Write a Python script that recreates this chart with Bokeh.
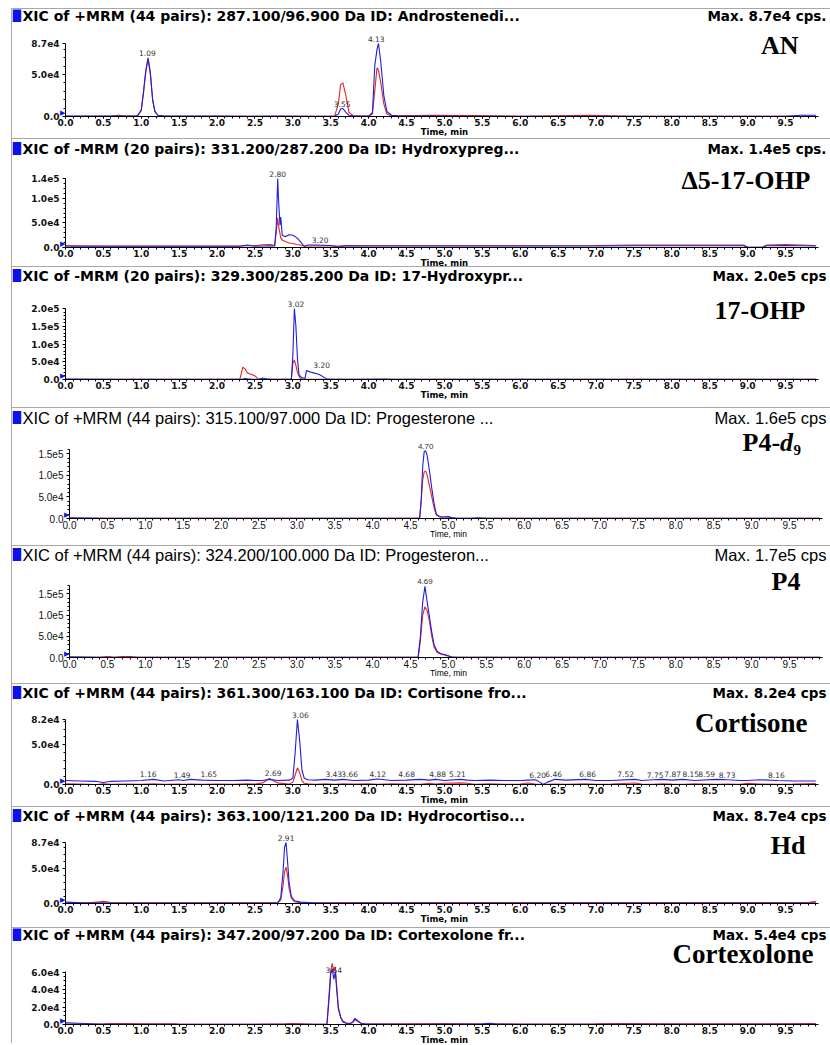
from bokeh.plotting import figure
from bokeh.layouts import column, row
from bokeh.models import Range1d, FixedTicker, Label, Spacer, NumeralTickFormatter
from bokeh.embed import file_html
from bokeh.resources import INLINE

# ---------------- data ----------------
x_ticks = [0.0, 0.5, 1.0, 1.5, 2.0, 2.5, 3.0, 3.5, 4.0, 4.5, 5.0, 5.5, 6.0, 6.5, 7.0, 7.5, 8.0, 8.5, 9.0, 9.5]
x_tick_labels = ["0.0", "0.5", "1.0", "1.5", "2.0", "2.5", "3.0", "3.5", "4.0", "4.5",
                 "5.0", "5.5", "6.0", "6.5", "7.0", "7.5", "8.0", "8.5", "9.0", "9.5"]

# Panel 1: AN
an_time = [0.00, 0.30, 0.60, 0.70, 0.80, 0.95, 1.00, 1.03, 1.06, 1.09, 1.12, 1.15, 1.18, 1.22, 1.30,
           1.60, 2.00, 2.40, 2.80, 3.20, 3.55, 3.60, 3.63, 3.66, 3.70, 3.74, 3.80, 4.00, 4.05, 4.08,
           4.11, 4.13, 4.16, 4.20, 4.24, 4.30, 4.40, 4.80, 5.40, 6.00, 6.90, 7.50, 8.50, 9.50, 9.70, 9.90]
an_blue = [500, 400, 400, 600, 400, 800, 8000, 30000, 55000, 70000, 52000, 20000, 6000, 1500, 500,
           400, 400, 300, 500, 300, 300, 3000, 9000, 9500, 5000, 1500, 500, 400, 5000, 60000,
           80000, 87000, 65000, 25000, 6000, 1500, 500, 400, 300, 300, 300, 300, 300, 300, 1500, 1500]
an_red = [300, 300, 600, 1500, 600, 700, 7000, 29000, 54000, 68000, 50000, 19000, 5500, 1200, 400,
          300, 300, 300, 300, 300, 500, 15000, 38000, 40000, 25000, 5000, 800, 300, 3000, 30000,
          58000, 55000, 40000, 15000, 3000, 1000, 800, 1500, 1200, 300, 1500, 300, 300, 300, 300, 300]
an_y_ticks = [0, 50000, 87000]
an_y_labels = ["0.0", "5.0e4", "8.7e4"]
an_peaks = [("1.09", 1.08, 70000), ("3.55", 3.65, 9500), ("4.13", 4.10, 87000)]

# Panel 2: delta5-17-OHP
oh5_time = [0.00, 0.10, 0.50, 1.00, 1.50, 2.00, 2.30, 2.40, 2.50, 2.60, 2.70, 2.76, 2.78, 2.80, 2.81,
            2.83, 2.84, 2.86, 2.90, 2.95, 3.00, 3.05, 3.10, 3.15, 3.20, 3.30, 3.50, 3.60, 3.70, 4.00,
            5.00, 6.00, 7.00, 7.50, 8.00, 8.50, 8.95, 9.00, 9.20, 9.25, 9.50, 9.90]
oh5_blue = [3000, 2500, 2500, 2500, 2500, 2500, 2500, 5000, 2500, 3000, 3500, 3000, 40000, 140000, 100000,
            45000, 62000, 25000, 22000, 26000, 25000, 20000, 12000, 2000, 5000, 5000, 4000, 1000, 3500, 3000,
            3000, 3000, 3000, 3500, 3500, 3500, 3500, 500, 500, 3500, 4000, 3000]
oh5_red = [3500, 3500, 3000, 3000, 3000, 3000, 3000, 3500, 3500, 5500, 6000, 4000, 30000, 60000, 45000,
           28000, 20000, 15000, 12000, 9000, 8000, 6000, 5000, 3000, 3000, 3000, 3000, 3000, 4000, 3500,
           3500, 3500, 4000, 5000, 5000, 5000, 5000, 500, 500, 5000, 6000, 4000]
oh5_y_ticks = [0, 50000, 100000, 140000]
oh5_y_labels = ["0.0", "5.0e4", "1.0e5", "1.4e5"]
oh5_peaks = [("2.80", 2.80, 140000), ("3.20", 3.36, 6000)]

# Panel 3: 17-OHP
ohp_time = [0.00, 0.50, 1.00, 1.50, 2.00, 2.30, 2.34, 2.37, 2.40, 2.45, 2.50, 2.55, 2.60, 2.65, 2.70,
            2.90, 2.98, 3.00, 3.02, 3.04, 3.06, 3.08, 3.10, 3.13, 3.16, 3.18, 3.25, 3.35, 3.45, 3.50,
            4.00, 4.20, 4.30, 5.00, 6.00, 7.00, 8.00, 9.00, 9.90]
ohp_blue = [1000, 300, 300, 300, 300, 300, 1500, 3000, 2000, 1000, 500, 500, 4000, 2000, 1000,
            500, 1000, 70000, 200000, 150000, 60000, 15000, 8000, 5000, 3000, 25000, 20000, 14000, 1000, 500,
            300, 1500, 300, 300, 300, 300, 300, 300, 300]
ohp_red = [300, 300, 300, 300, 300, 300, 35000, 30000, 18000, 15000, 10000, 500, 500, 300, 300,
           300, 1000, 45000, 55000, 40000, 20000, 10000, 3000, 800, 500, 500, 500, 300, 300, 300,
           300, 300, 300, 300, 300, 300, 300, 300, 300]
ohp_y_ticks = [0, 50000, 100000, 150000, 200000]
ohp_y_labels = ["0.0", "5.0e4", "1.0e5", "1.5e5", "2.0e5"]
ohp_peaks = [("3.02", 3.04, 200000), ("3.20", 3.38, 27000)]

# Panel 4: P4-d9
p4d_time = [0.00, 0.50, 1.00, 2.00, 3.00, 4.00, 4.50, 4.60, 4.62, 4.64, 4.66, 4.68, 4.70, 4.72, 4.75,
            4.78, 4.81, 4.84, 4.88, 4.92, 4.96, 5.00, 5.04, 5.10, 5.30, 5.40, 5.50, 6.00, 7.00, 8.00,
            9.00, 9.90]
p4d_blue = [1500, 300, 300, 300, 300, 300, 300, 300, 300, 40000, 120000, 155000, 157000, 145000, 110000,
            70000, 35000, 10000, 4000, 3000, 4000, 4500, 2000, 500, 300, 1500, 300, 300, 300, 300,
            300, 300]
p4d_red = [300, 300, 300, 300, 300, 300, 300, 300, 300, 40000, 90000, 108000, 110000, 100000, 75000,
           50000, 25000, 8000, 5000, 4000, 3500, 3000, 1500, 300, 300, 300, 300, 300, 300, 300,
           300, 300]
p4d_y_ticks = [0, 50000, 100000, 150000]
p4d_y_labels = ["0.0", "5.0e4", "1.0e5", "1.5e5"]
p4d_peaks = [("4.70", 4.70, 157000)]

# Panel 5: P4
p4_time = [0.00, 0.40, 0.50, 0.60, 0.70, 0.80, 0.90, 1.00, 2.00, 3.00, 4.00, 4.55, 4.60, 4.63, 4.66,
           4.69, 4.72, 4.75, 4.78, 4.81, 4.85, 4.90, 4.95, 5.00, 5.05, 5.10, 6.00, 7.00, 8.00, 9.00, 9.90]
p4_blue = [1500, 300, 300, 300, 300, 300, 300, 300, 300, 300, 300, 300, 300, 50000, 130000,
           168000, 130000, 95000, 60000, 30000, 15000, 9000, 7000, 4000, 800, 300, 300, 300, 300, 300, 300]
p4_red = [300, 300, 2500, 300, 2000, 2500, 300, 300, 300, 300, 300, 300, 300, 40000, 100000,
          120000, 110000, 85000, 50000, 25000, 12000, 8000, 6000, 3000, 500, 300, 300, 300, 300, 300, 300]
p4_y_ticks = [0, 50000, 100000, 150000]
p4_y_labels = ["0.0", "5.0e4", "1.0e5", "1.5e5"]
p4_peaks = [("4.69", 4.69, 168000)]

# Panel 6: Cortisone
cs_time = [0.00, 0.20, 0.40, 0.50, 0.60, 0.80, 1.00, 1.16, 1.30, 1.49, 1.55, 1.65, 1.80, 2.00, 2.20,
           2.40, 2.50, 2.60, 2.69, 2.80, 2.95, 3.00, 3.03, 3.06, 3.09, 3.12, 3.15, 3.20, 3.30, 3.43,
           3.55, 3.66, 3.80, 4.00, 4.12, 4.30, 4.50, 4.68, 4.80, 4.88, 5.00, 5.21, 5.30, 5.40, 5.60,
           5.80, 6.00, 6.10, 6.20, 6.26, 6.30, 6.36, 6.46, 6.60, 6.86, 7.00, 7.20, 7.52, 7.60, 7.75,
           7.87, 8.00, 8.15, 8.30, 8.59, 8.73, 8.90, 9.00, 9.16, 9.40, 9.60, 9.90]
cs_blue = [5000, 4500, 4000, 2500, 4000, 4500, 5000, 6500, 4500, 6000, 5000, 6500, 5500, 5000, 5000,
           5500, 5000, 5000, 6500, 5000, 5500, 8000, 40000, 82000, 55000, 18000, 8000, 6000, 5500, 6500,
           5500, 6500, 5000, 5500, 7000, 5000, 5500, 6500, 5500, 6500, 5000, 6500, 5500, 5000, 5500,
           5000, 5000, 5500, 6000, 3000, 0, 3000, 6500, 5500, 6500, 5000, 5000, 6500, 5000, 6000,
           6500, 5500, 6500, 5000, 6500, 6000, 5000, 5000, 6000, 5000, 4500, 4500]
cs_red = [800, 500, 0, 800, 300, 600, 300, 800, 300, 600, 300, 500, 300, 600, 300,
          800, 500, 2000, 7500, 2000, 500, 3000, 12000, 21000, 15000, 5000, 1500, 800, 300, 1000,
          300, 800, 500, 1000, 300, 800, 500, 300, 1500, 600, 1500, 2000, 1500, 300, 800,
          300, 600, 1800, 500, 300, 300, 300, 600, 300, 800, 300, 600, 1800, 500, 300,
          800, 500, 300, 800, 300, 600, 300, 1500, 500, 300, 600, 1200]
cs_y_ticks = [0, 50000, 82000]
cs_y_labels = ["0.0", "5.0e4", "8.2e4"]
cs_peaks = [("1.16", 1.09, 6500), ("1.49", 1.54, 6000), ("1.65", 1.89, 6500), ("2.69", 2.74, 8000),
            ("3.06", 3.10, 82000), ("3.43", 3.54, 6500), ("3.66", 3.75, 6500), ("4.12", 4.12, 7000),
            ("4.68", 4.50, 6500), ("4.88", 4.91, 6500), ("5.21", 5.17, 6500), ("6.20", 6.23, 6000),
            ("6.46", 6.44, 6500), ("6.86", 6.89, 6500), ("7.52", 7.39, 6500), ("7.75", 7.78, 6000),
            ("7.87", 8.01, 6500), ("8.15", 8.25, 6500), ("8.59", 8.46, 6500), ("8.73", 8.73, 6000),
            ("8.16", 9.38, 6000)]

# Panel 7: Hd
hd_time = [0.00, 0.30, 0.45, 0.50, 0.60, 1.00, 2.00, 2.70, 2.80, 2.84, 2.87, 2.89, 2.91, 2.93, 2.95,
           2.98, 3.02, 3.10, 3.20, 3.30, 3.50, 4.00, 5.00, 6.00, 7.00, 8.00, 9.00, 9.80, 9.90]
hd_blue = [2000, 800, 1000, 1000, 800, 800, 800, 800, 800, 8000, 45000, 80000, 87000, 60000, 30000,
           10000, 4000, 2000, 1500, 800, 800, 800, 800, 800, 800, 800, 800, 800, 1000]
hd_red = [1000, 1000, 2500, 3000, 1500, 1000, 1000, 1000, 1500, 5000, 25000, 45000, 52000, 40000, 22000,
          8000, 2500, 1200, 1000, 1000, 1000, 1200, 1500, 1200, 1500, 1200, 1500, 1500, 3000]
hd_y_ticks = [0, 50000, 87000]
hd_y_labels = ["0.0", "5.0e4", "8.7e4"]
hd_peaks = [("2.91", 2.91, 87000)]

# Panel 8: Cortexolone
cx_time = [0.00, 0.50, 0.60, 0.80, 1.00, 1.45, 1.50, 2.00, 2.50, 2.90, 3.00, 3.30, 3.45, 3.48, 3.50,
           3.52, 3.54, 3.56, 3.58, 3.60, 3.63, 3.66, 3.70, 3.75, 3.79, 3.82, 3.86, 3.90, 3.95, 4.20,
           4.50, 5.00, 5.50, 5.60, 5.70, 6.00, 7.00, 7.30, 8.00, 9.00, 9.90]
cx_blue = [2000, 300, 300, 300, 300, 300, 300, 300, 300, 300, 300, 300, 300, 32000, 58000,
           64000, 52000, 60000, 38000, 18000, 8000, 3000, 1500, 1000, 3000, 7000, 4000, 1500, 500, 500,
           300, 300, 800, 1500, 500, 300, 300, 300, 300, 300, 300]
cx_red = [600, 800, 1000, 1000, 800, 800, 300, 300, 300, 800, 1000, 300, 300, 38000, 62000,
          70000, 60000, 66000, 42000, 20000, 9000, 4000, 2000, 1000, 2000, 5500, 3500, 1500, 500, 600,
          800, 1000, 600, 600, 600, 600, 800, 1000, 800, 800, 1000]
cx_y_ticks = [0, 20000, 40000, 60000]
cx_y_labels = ["0.0", "2.0e4", "4.0e4", "6.0e4"]
cx_peaks = [("3.54", 3.54, 57000)]

# ---------------- layout / style ----------------
BLUE = "#1e1ee0"
RED = "#e02626"
GRAY = "#a8a8a8"
FIG_X = 12          # page x where each panel figure begins
FIG_W = 830 - FIG_X
PPM = 720 / 9.5     # pixels per minute
X_END = 9.94

WIDE = dict(title_font="DejaVu Sans", title_size="14px", max_size="13.5px", title_style="bold",
            tick_font="DejaVu Sans", tick_size="9px", tick_style="bold",
            small_font="DejaVu Sans", peak_size="7.5px", time_style="bold")
NARROW = dict(title_font="Liberation Sans", title_size="16.5px", max_size="16.5px", title_style="normal",
              tick_font="Liberation Sans", tick_size="10px", tick_style="normal",
              small_font="Liberation Sans", peak_size="8px", time_style="normal")

# geometry in page pixels: separator line, next separator, title row, top of y axis, baseline,
# compound-label centre, compound-label right edge, x of time 0
panels = [
    dict(sep=8, nxt=138, title_y=15, top_y=43, base_y=116, id_y=45, id_right=798, x0=65,
         y_end=87000, y_axis_top=87000, t=an_time, b=an_blue, r=an_red, yt=an_y_ticks, yl=an_y_labels,
         ym=10000, peaks=an_peaks, style=WIDE, ident="AN", id_size="26px",
         title="XIC of +MRM (44 pairs): 287.100/96.900 Da ID: Androstenedi...", mx="Max. 8.7e4 cps."),
    dict(sep=138, nxt=266, title_y=148, top_y=178, base_y=247, id_y=180, id_right=810, x0=65,
         y_end=140000, y_axis_top=140000, t=oh5_time, b=oh5_blue, r=oh5_red, yt=oh5_y_ticks,
         yl=oh5_y_labels, ym=10000, peaks=oh5_peaks, style=WIDE, ident="\u03945-17-OHP", id_size="26px",
         title="XIC of -MRM (20 pairs): 331.200/287.200 Da ID: Hydroxypreg...", mx="Max. 1.4e5 cps."),
    dict(sep=266, nxt=407, title_y=275, top_y=308, base_y=379, id_y=310, id_right=805, x0=65,
         y_end=200000, y_axis_top=200000, t=ohp_time, b=ohp_blue, r=ohp_red, yt=ohp_y_ticks,
         yl=ohp_y_labels, ym=10000, peaks=ohp_peaks, style=WIDE, ident="17-OHP", id_size="26px",
         title="XIC of -MRM (20 pairs): 329.300/285.200 Da ID: 17-Hydroxypr...", mx="Max. 2.0e5 cps"),
    dict(sep=407, nxt=545, title_y=417, top_y=449, base_y=518, id_y=442, id_right=800, x0=69,
         y_end=160000, y_axis_top=160000, t=p4d_time, b=p4d_blue, r=p4d_red, yt=p4d_y_ticks,
         yl=p4d_y_labels, ym=10000, peaks=p4d_peaks, style=NARROW, ident=None, id_size="26px",
         title="XIC of +MRM (44 pairs): 315.100/97.000 Da ID: Progesterone ...", mx="Max. 1.6e5 cps"),
    dict(sep=545, nxt=683, title_y=554, top_y=585, base_y=657, id_y=581, id_right=800, x0=69,
         y_end=170000, y_axis_top=170000, t=p4_time, b=p4_blue, r=p4_red, yt=p4_y_ticks,
         yl=p4_y_labels, ym=10000, peaks=p4_peaks, style=NARROW, ident="P4", id_size="26px",
         title="XIC of +MRM (44 pairs): 324.200/100.000 Da ID: Progesteron...", mx="Max. 1.7e5 cps"),
    dict(sep=683, nxt=806, title_y=692, top_y=719, base_y=784, id_y=722, id_right=807, x0=65,
         y_end=82000, y_axis_top=82000, t=cs_time, b=cs_blue, r=cs_red, yt=cs_y_ticks,
         yl=cs_y_labels, ym=10000, peaks=cs_peaks, style=WIDE, ident="Cortisone", id_size="27px",
         title="XIC of +MRM (44 pairs): 361.300/163.100 Da ID: Cortisone fro...", mx="Max. 8.2e4 cps"),
    dict(sep=806, nxt=927, title_y=815, top_y=842, base_y=903, id_y=845, id_right=805, x0=65,
         y_end=87000, y_axis_top=87000, t=hd_time, b=hd_blue, r=hd_red, yt=hd_y_ticks,
         yl=hd_y_labels, ym=10000, peaks=hd_peaks, style=WIDE, ident="Hd", id_size="26px",
         title="XIC of +MRM (44 pairs): 363.100/121.200 Da ID: Hydrocortiso...", mx="Max. 8.7e4 cps"),
    dict(sep=927, nxt=1043, title_y=934, top_y=969, base_y=1024, id_y=953, id_right=813, x0=65,
         y_end=63000, y_axis_top=61000, t=cx_time, b=cx_blue, r=cx_red, yt=cx_y_ticks,
         yl=cx_y_labels, ym=5000, peaks=cx_peaks, style=WIDE, ident="Cortexolone", id_size="27px",
         title="XIC of +MRM (44 pairs): 347.200/97.200 Da ID: Cortexolone fr...", mx="Max. 5.4e4 cps"),
]


def build(spec):
    st = spec["style"]
    y_end = spec["y_end"]
    base_y, top_y, x0 = spec["base_y"], spec["top_y"], spec["x0"]
    h = spec["nxt"] - spec["sep"] - 1

    def X(px):
        return (px - x0) / PPM

    def Y(py):
        return y_end * (base_y - py) / (base_y - top_y)

    def dy(px):
        return y_end * px / (base_y - top_y)

    # the frame covers the whole canvas; axes are pinned at the origin
    p = figure(width=FIG_W, height=h, title=None,
               x_range=Range1d(X(FIG_X), X(830)), y_range=Range1d(Y(spec["nxt"]), Y(spec["sep"] + 1)),
               output_backend="svg", toolbar_location=None, min_border=0)
    p.min_border_left = 0
    p.min_border_right = 0
    p.min_border_top = 0
    p.min_border_bottom = 0
    p.outline_line_color = None
    p.xgrid.visible = False
    p.ygrid.visible = False
    p.background_fill_color = "white"
    p.border_fill_color = "white"

    xa = p.xaxis[0]
    ya = p.yaxis[0]
    xa.fixed_location = 0
    ya.fixed_location = 0
    xa.bounds = (0, X_END)
    ya.bounds = (0, spec["y_axis_top"])
    xa.ticker = FixedTicker(ticks=x_ticks, minor_ticks=[i / 10 for i in range(100)])
    xa.formatter = NumeralTickFormatter(format="0.0")
    xa.major_label_overrides = dict(zip(x_ticks, x_tick_labels))
    ym = spec["ym"]
    ya.ticker = FixedTicker(ticks=spec["yt"],
                            minor_ticks=[k * ym for k in range(int(spec["y_axis_top"] // ym) + 1)])
    ya.major_label_overrides = dict(zip(spec["yt"], spec["yl"]))
    for ax in (xa, ya):
        ax.axis_line_color = "black"
        ax.axis_line_width = 1
        ax.major_tick_line_color = "black"
        ax.minor_tick_line_color = "black"
        ax.major_tick_in = 0
        ax.minor_tick_in = 0
        ax.minor_tick_out = 2
        ax.major_label_text_font = st["tick_font"]
        ax.major_label_text_font_size = st["tick_size"]
        ax.major_label_text_font_style = st["tick_style"]
        ax.major_label_text_color = "#111111"
    xa.major_tick_out = 2
    xa.major_label_standoff = 0
    ya.major_tick_out = 3
    ya.major_label_standoff = 3

    p.line(spec["t"], spec["r"], line_color=RED, line_width=1.1)
    p.line(spec["t"], spec["b"], line_color=BLUE, line_width=1.1)

    def txt(x, y, s, font, size, style="normal", color="black", align="left", baseline="middle"):
        p.add_layout(Label(x=x, y=y, text=s, text_font=font, text_font_size=size,
                           text_font_style=style, text_color=color,
                           text_align=align, text_baseline=baseline))

    ty = Y(spec["title_y"])
    txt(X(12), ty, "\u2588", "DejaVu Sans", "11px", color="#1010e8")
    txt(X(22), ty, spec["title"], st["title_font"], st["title_size"], st["title_style"])
    txt(X(826), ty, spec["mx"], st["title_font"], st["max_size"], st["title_style"], align="right")

    # origin marker
    txt(0, 0, "\u25b6", "DejaVu Sans", "7px", color="#1010e8", align="right", baseline="bottom")

    # x axis title
    txt(5.0, Y(base_y + 15), "Time, min", st["small_font"], "8.5px", st["time_style"], align="center")

    # peak labels
    for s, px, pv in spec["peaks"]:
        txt(px, pv + dy(2), s, st["small_font"], st["peak_size"], color="#333333",
            align="center", baseline="bottom")

    # compound label
    iy = Y(spec["id_y"])
    if spec["ident"] is not None:
        txt(X(spec["id_right"]), iy, spec["ident"], "Liberation Serif", spec["id_size"], "bold",
            align="right")
    else:
        xs = spec["id_right"] - 58
        txt(X(xs), iy, "P4-", "Liberation Serif", "26px", "bold")
        txt(X(xs + 37.5), iy, "d", "Liberation Serif", "26px", "bold italic")
        txt(X(xs + 51), Y(spec["id_y"] + 7), "9", "Liberation Serif", "15px", "bold")
    return p


stack = [Spacer(width=FIG_W, height=8)]
for spec in panels:
    stack.append(Spacer(width=FIG_W, height=1, styles={"background-color": GRAY}))
    stack.append(build(spec))

left_edge = column(Spacer(width=1, height=8),
                   Spacer(width=1, height=1043 - 8, styles={"background-color": GRAY}),
                   spacing=0)
layout = row(Spacer(width=FIG_X - 1, height=1043), left_edge, column(*stack, spacing=0), spacing=0)
open("out.html", "w").write(file_html(layout, INLINE))
